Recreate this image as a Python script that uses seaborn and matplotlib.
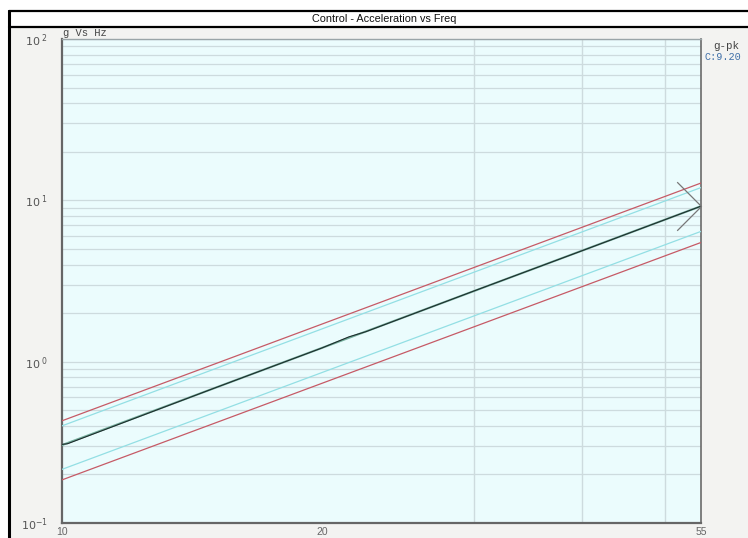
import numpy as np
import pandas as pd
import matplotlib.pyplot as plt
import seaborn as sns
from matplotlib.lines import Line2D
from matplotlib.patches import Rectangle
from matplotlib.path import Path
from matplotlib.ticker import FixedLocator, FixedFormatter, NullFormatter

# values (Hz, g-pk)
freq_ends = [10, 55]
abort_hi = [0.43, 12.8]
alarm_hi = [0.40, 12.0]
alarm_lo = [0.215, 6.42]
abort_lo = [0.185, 5.48]

ref_freq = [10, 55]
ref_g = [0.304, 9.20]

ctrl_freq = [10, 10.15, 15, 20, 21.5, 22.5, 30, 40, 55]
ctrl_g = [0.307, 0.31, 0.684, 1.215, 1.425, 1.535, 2.74, 4.86, 9.20]

x_tick_vals = [10, 20, 55]
x_tick_labels = ["10", "20", "55"]
x_grid_vals = [20, 30, 40, 50]
y_tick_vals = [0.1, 1, 10, 100]
y_tick_labels = [r"$10^{-1}$", r"$10^{\ 0}$", r"$10^{\ 1}$", r"$10^{\ 2}$"]
control_peak = "C:9.20"

sns.set_style("white", {"axes.facecolor": "#ebfcfd"})
plt.rcParams["font.family"] = ["Liberation Sans", "DejaVu Sans"]

fig = plt.figure(figsize=(7.48, 5.38), dpi=100)
fig.patch.set_facecolor("white")

# grey panel + frame lines like the original app window
fig.add_artist(Rectangle((9 / 748, 0), 1, (538 - 27) / 538, transform=fig.transFigure,
                         facecolor="#f3f3f1", edgecolor="none", zorder=-10))
fig.add_artist(Line2D([9 / 748, 1], [1 - 11 / 538] * 2, color="black", lw=1.6))
fig.add_artist(Line2D([9 / 748, 1], [1 - 26.5 / 538] * 2, color="black", lw=1.6))
fig.add_artist(Line2D([9 / 748] * 2, [0, 1 - 11 / 538], color="black", lw=2.2))
fig.text(384 / 748, 1 - 18.5 / 538, "Control - Acceleration vs Freq", ha="center", va="center",
         fontsize=7.8, color="#111111")

ax = fig.add_axes([62 / 748, 1 - 523 / 538, (701 - 62) / 748, (523 - 39) / 538])
ax.set_facecolor("#ebfcfd")

lim_df = pd.DataFrame({"freq": freq_ends, "abort_hi": abort_hi, "alarm_hi": alarm_hi,
                       "alarm_lo": alarm_lo, "abort_lo": abort_lo})
for col, color in [("abort_hi", "#c65a66"), ("abort_lo", "#c65a66"),
                   ("alarm_hi", "#93dfe4"), ("alarm_lo", "#93dfe4")]:
    sns.lineplot(data=lim_df, x="freq", y=col, ax=ax, color=color, lw=0.9, zorder=3)

sns.lineplot(x=ref_freq, y=ref_g, ax=ax, color="#74ae9c", lw=1.5, zorder=4)
sns.lineplot(x=ctrl_freq, y=ctrl_g, ax=ax, color="#1d2b2b", lw=0.8, zorder=5)

# arrow-head marker at the control point
head = Path([(-1, 1), (0, 0), (-1, -1)], [Path.MOVETO, Path.LINETO, Path.LINETO])
ax.plot([ctrl_freq[-1]], [ctrl_g[-1]], marker=head, markersize=35, markerfacecolor="none",
        markeredgecolor="#777777", markeredgewidth=0.9, clip_on=False, zorder=6)

ax.set_xscale("log")
ax.set_yscale("log")
ax.set_xlim(10, 55)
ax.set_ylim(0.1, 100)

ax.xaxis.set_major_locator(FixedLocator(x_tick_vals))
ax.xaxis.set_major_formatter(FixedFormatter(x_tick_labels))
ax.xaxis.set_minor_locator(FixedLocator(x_grid_vals))
ax.xaxis.set_minor_formatter(NullFormatter())
ax.yaxis.set_major_locator(FixedLocator(y_tick_vals))
ax.yaxis.set_major_formatter(FixedFormatter(y_tick_labels))
ax.yaxis.set_minor_locator(FixedLocator([m * 10.0 ** e for e in range(-1, 2) for m in range(2, 10)]))
ax.yaxis.set_minor_formatter(NullFormatter())

ax.grid(False)
ax.xaxis.grid(True, which="minor", color="#cddbde", lw=1.0)
ax.yaxis.grid(True, which="both", color="#cddbde", lw=0.9)
ax.set_axisbelow(True)

ax.tick_params(axis="x", which="both", length=0, pad=3, labelsize=7.5, labelcolor="#666666")
ax.tick_params(axis="y", which="major", length=4, width=0.7, color="#999999", pad=6,
               labelsize=8, labelcolor="#555555")
ax.tick_params(axis="y", which="minor", length=0)
ax.set_xlabel("")
ax.set_ylabel("")

for side in ["left", "bottom"]:
    ax.spines[side].set_color("#666666")
    ax.spines[side].set_linewidth(1.6)
ax.spines["right"].set_color("#6a6a6a")
ax.spines["right"].set_linewidth(1.2)
ax.spines["top"].set_color("#9aa5a8")
ax.spines["top"].set_linewidth(1.0)
for side in ax.spines:
    ax.spines[side].set_visible(True)

mono = ["Liberation Mono", "DejaVu Sans Mono"]
fig.text(63 / 748, 1 - 33 / 538, "g Vs Hz", fontsize=7.5, color="#444444", family=mono, va="center")
fig.text(739 / 748, 1 - 46 / 538, "g-pk", fontsize=7.8, color="#444444", ha="right",
         family=mono, va="center")
fig.text(741 / 748, 1 - 57 / 538, control_peak, fontsize=7.3, color="#3f6fa8", ha="right",
         family=mono, va="center")

fig.savefig("out.png", dpi=100)
